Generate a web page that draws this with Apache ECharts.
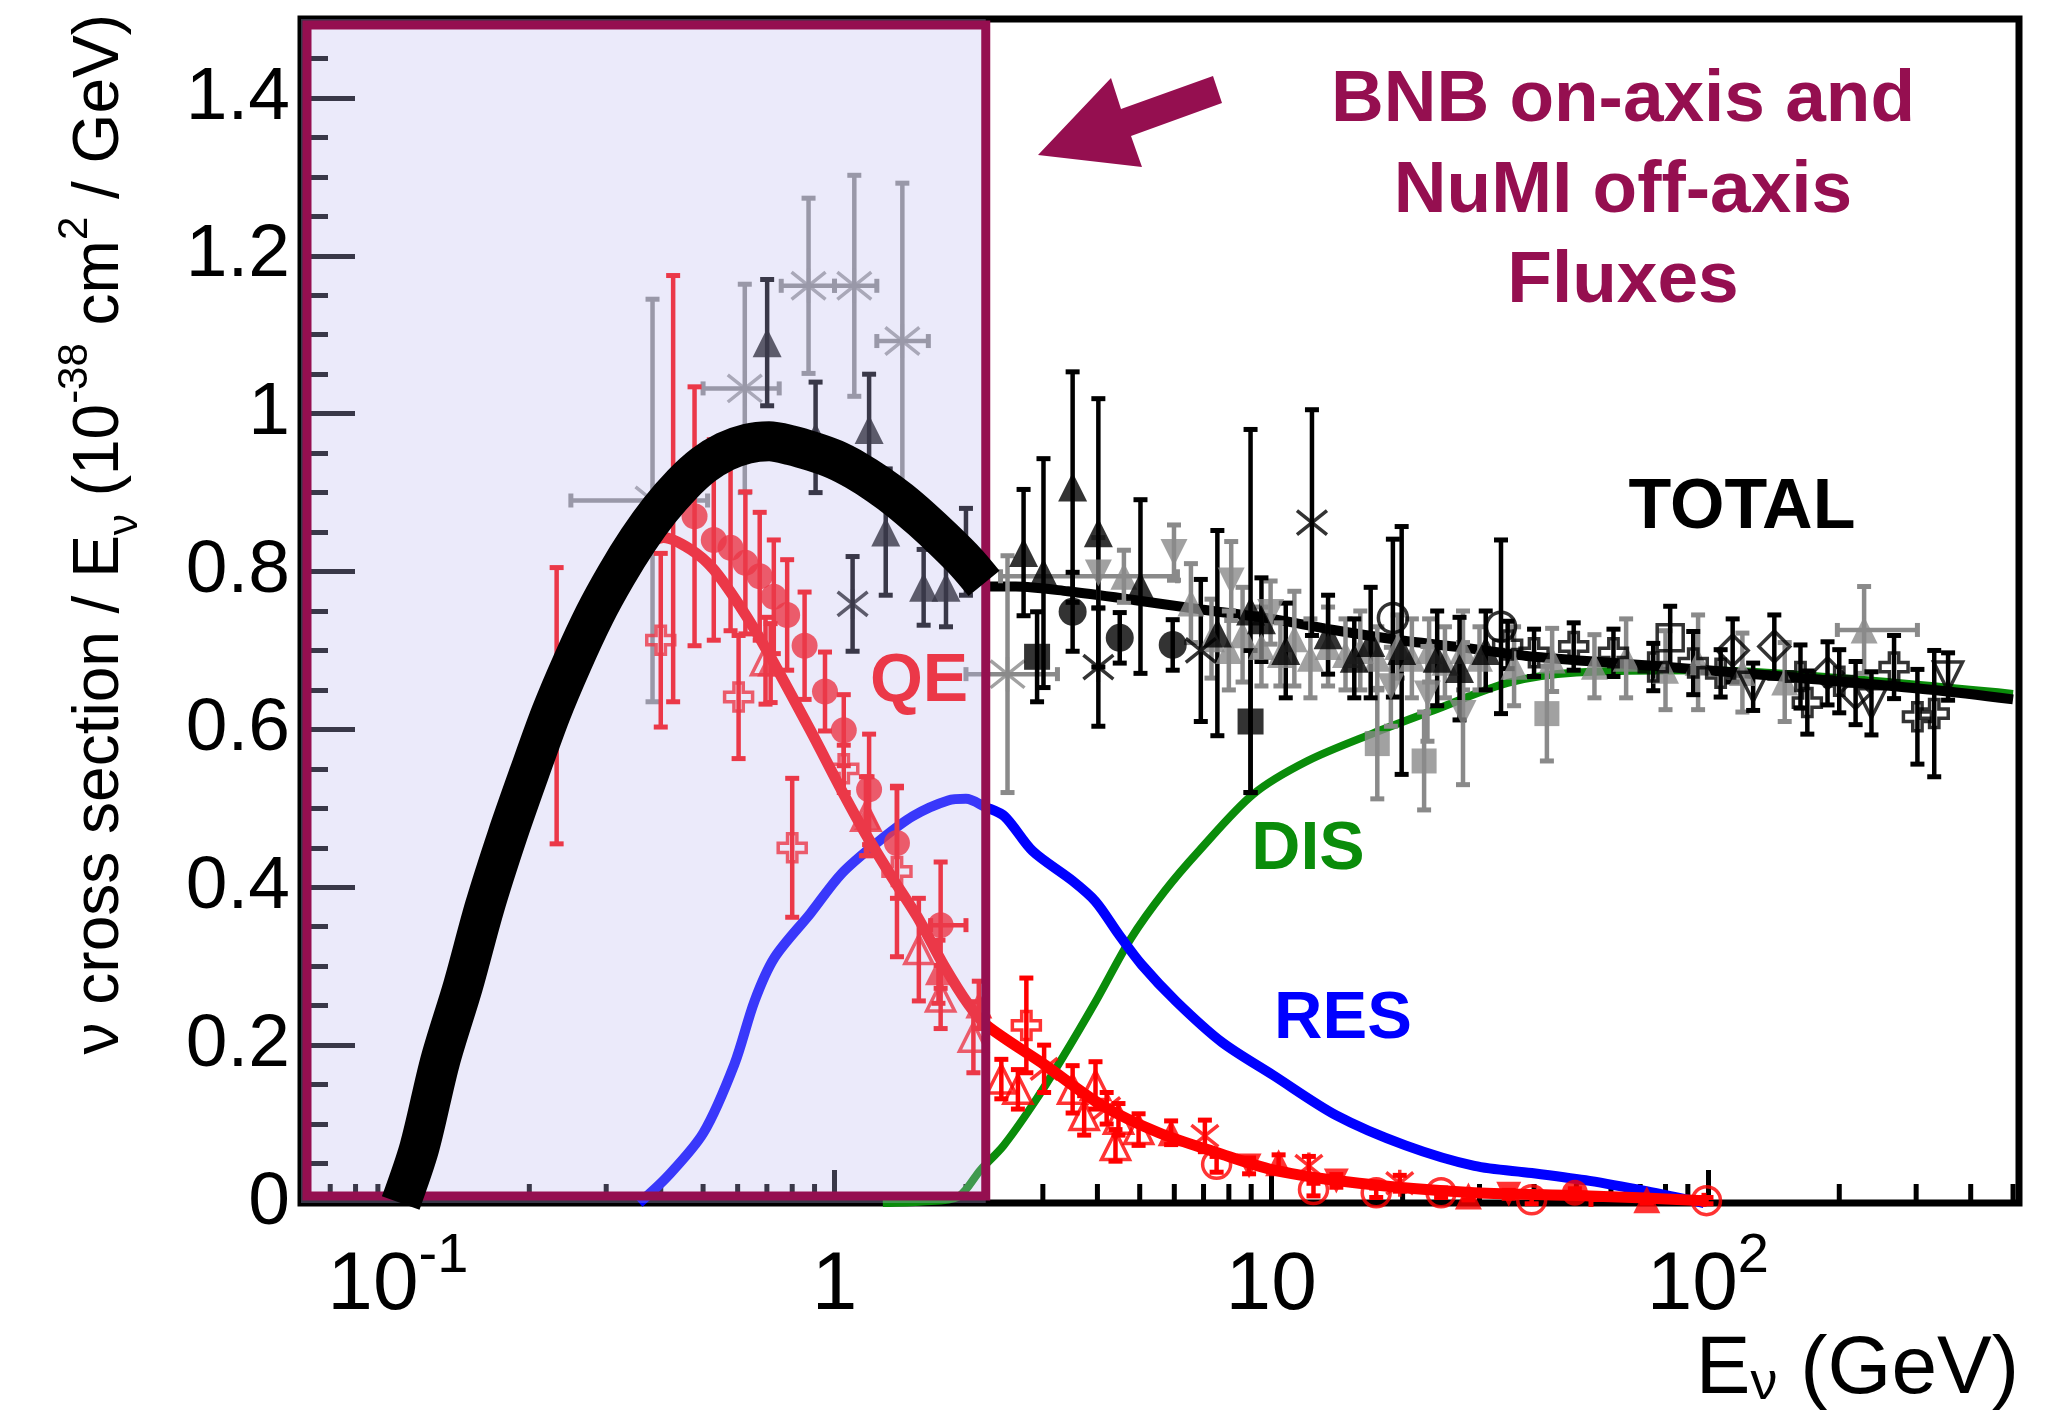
<!DOCTYPE html>
<html><head><meta charset="utf-8">
<script src="https://cdn.jsdelivr.net/npm/echarts@6/dist/echarts.min.js"></script>
<style>html,body{margin:0;padding:0;background:#fff;} #c{width:2045px;height:1415px;}</style>
</head><body><div id="c"></div>
<script>
// ---------------- axis / tick values ----------------
const xRange = [0.06, 516];
const yRange = [0, 1.5];
const xDecades = [0.1, 1, 10, 100];
const xDecadeLabels = ['{b|10}{s|-1}', '{b|1}', '{b|10}', '{b|10}{s|2}'];
const xMinorTicks = [0.07,0.08,0.09, 0.2,0.3,0.4,0.5,0.6,0.7,0.8,0.9, 2,3,4,5,6,7,8,9, 20,30,40,50,60,70,80,90, 200,300,400,500];
const fluxBox = [0.06, 2.22, 0, 1.5]; // E from, E to, y from, y to

// ---------------- model curves ----------------
const thickE = [0.1015,0.112,0.125,0.141,0.158,0.178,0.2,0.224,0.251,0.282,0.316,0.355,0.398,0.447,0.501,0.562,0.631,0.708,0.794,0.891,1.0,1.12,1.26,1.41,1.585,1.78,2.0,2.2];
const thickY = [0,0.07,0.18,0.275,0.375,0.465,0.545,0.62,0.685,0.745,0.795,0.84,0.878,0.91,0.935,0.952,0.962,0.965,0.96,0.952,0.942,0.928,0.91,0.89,0.866,0.84,0.812,0.785];
const totalE = [2.2,2.6,3.42,4.85,6.9,9.8,13.9,19.8,28.1,40,81,163,330,500];
const totalY = [0.781,0.781,0.775,0.764,0.752,0.741,0.726,0.713,0.703,0.692,0.679,0.665,0.65,0.638];
const qeE = [0.33,0.36,0.406,0.468,0.528,0.609,0.70,0.88,1.04,1.18,1.36,1.55,1.78,2.03,2.23,3.03,4.09,5.53,7.5,10.1,15.9,29.2,53.6,98];
const qeY = [0.815,0.83,0.843,0.828,0.803,0.755,0.70,0.599,0.522,0.467,0.411,0.362,0.301,0.251,0.225,0.175,0.124,0.089,0.064,0.042,0.025,0.013,0.009,0.003];
const resE = [0.357,0.415,0.501,0.59,0.656,0.729,0.881,1.037,1.254,1.51,1.82,2.0,2.21,2.45,2.84,3.51,3.96,4.48,5.05,6.07,7.7,10.1,14.1,20.3,29.2,39.5,53.6,72.3,98];
const resY = [0,0.034,0.089,0.176,0.256,0.311,0.367,0.417,0.457,0.49,0.51,0.512,0.502,0.49,0.446,0.408,0.382,0.34,0.302,0.255,0.204,0.162,0.111,0.073,0.047,0.038,0.028,0.015,0];
const disE = [1.29,1.59,1.92,2.16,2.44,2.84,3.31,3.96,4.77,5.7,6.83,9.1,12.1,17.1,23.5,34.8,50,100,200,500];
const disY = [0,0.002,0.008,0.042,0.073,0.124,0.182,0.255,0.335,0.395,0.446,0.518,0.56,0.595,0.624,0.659,0.672,0.675,0.665,0.645];

// ---------------- measurements: [E, y, yErr, (Elo, Ehi)] ----------------
const qeCircle = [[0.231,0.63,0.175],[0.427,0.905,0.27],[0.478,0.870,0.164],[0.529,0.840,0.127],[0.578,0.830,0.105],[0.625,0.811,0.09],[0.674,0.794,0.081],[0.726,0.768,0.072],[0.779,0.745,0.07],[0.854,0.706,0.068],[0.951,0.648,0.05],[1.05,0.599,0.045],[1.20,0.524,0.07],[1.39,0.456,0.07],[1.75,0.352,0.08,1.66,2.0],[49.6,0.013,0.005]];
const qeCross = [[0.40,0.713,0.11],[0.603,0.641,0.078],[0.80,0.45,0.088],[1.05,0.55,0.03],[1.39,0.42,0.108],[2.75,0.225,0.06]];
const qeTriOpen = [[0.695,0.687,0.055],[1.18,0.49,0.05],[1.56,0.321,0.065],[1.75,0.261,0.04],[2.08,0.21,0.045],[2.41,0.157,0.025],[2.63,0.144,0.025],[3.51,0.144,0.03],[3.73,0.111,0.025],[3.96,0.149,0.03],[4.4,0.073,0.02],[4.47,0.106,0.02],[4.97,0.093,0.02]];
const qeTriFilled = [[0.714,0.684,0.05],[1.19,0.49,0.05],[1.73,0.293,0.04],[2.14,0.251,0.03],[5.9,0.089,0.015],[10.4,0.051,0.01],[28.3,0.009,0.005],[72.5,0.004,0.004,54,98]];
const qeStar = [[3.02,0.17,0.03],[4.2,0.12,0.02],[7.05,0.085,0.02],[12.2,0.047,0.012],[19.7,0.025,0.01]];
const qeOpenCircle = [[7.5,0.049,0.01],[12.5,0.017,0.008],[17.4,0.013,0.006],[24.5,0.013,0.006],[39.5,0.004,0.005],[99.3,0.003,0.004]];
const qeDownTri = [[8.9,0.047,0.01],[14.1,0.028,0.008],[35,0.011,0.005]];

const totTri = [[0.701,1.09,0.08],[0.905,0.97,0.07],[1.2,0.98,0.07],[1.31,0.85,0.08],[1.60,0.78,0.048],[1.80,0.78,0.05],[2.0,0.825,0.055],[2.71,0.824,0.08],[3.01,0.798,0.145],[3.51,0.907,0.146],[4.02,0.849,0.17],[5.02,0.781,0.11],[7.53,0.722,0.13],[8.97,0.75,0.23],[9.5,0.739,0.053],[10.8,0.70,0.06],[13.5,0.72,0.05],[15.5,0.69,0.05],[16.9,0.71,0.07],[19.9,0.70,0.157],[24,0.69,0.06],[27,0.677,0.065],[31,0.70,0.05]];
const totStar = [[1.10,0.759,0.06],[4.02,0.679,0.075],[6.9,0.70,0.09],[12.4,0.862,0.143]];
const totCircle = [[3.51,0.749,0.05],[4.5,0.716,0.032],[5.95,0.707,0.032]];
const totSquare = [[2.91,0.692,0.057],[8.97,0.61,0.09]];
const totOpenCircle = [[19.0,0.741,0.1],[33.6,0.73,0.11]];
const totOpenCross = [[34.8,0.707,0.03],[40,0.697,0.03],[49.3,0.705,0.03],[60.8,0.697,0.03],[75,0.679,0.03],[92.6,0.684,0.04],[107,0.671,0.03],[163,0.667,0.04],[169,0.634,0.04],[200,0.661,0.04],[267,0.679,0.04],[302,0.616,0.06],[330,0.62,0.08]];
const totOpenDiamond = [[114,0.70,0.04],[142,0.705,0.04],[188,0.671,0.04],[218,0.646,0.04]];
const totOpenTriDown = [[127,0.654,0.03],[237,0.633,0.04],[355,0.667,0.03]];
const totOpenSquare = [[82,0.716,0.04]];

const grayStar = [[0.383,0.89,0.255,0.249,0.512],[0.623,1.032,0.132,0.50,0.747],[0.872,1.162,0.111,0.755,1.0],[1.11,1.162,0.14,1.0,1.25],[1.43,1.092,0.2,1.25,1.64],[2.49,0.67,0.15,2.0,3.24]];
const grayTriUp = [[4.6,0.794,0.033,2.4,6.1],[6.55,0.76,0.05],[7.3,0.715,0.05],[8.0,0.70,0.05],[8.6,0.72,0.06],[9.5,0.705,0.05],[10.5,0.695,0.04],[11.3,0.715,0.06],[12.3,0.69,0.05],[13.5,0.705,0.05],[14.8,0.695,0.045],[16.0,0.70,0.05],[17.5,0.69,0.04],[19.5,0.705,0.04],[21,0.69,0.05],[23,0.70,0.04],[25,0.685,0.045],[27.5,0.70,0.05],[30,0.69,0.04],[36,0.68,0.05],[44,0.688,0.04],[55,0.68,0.04],[65,0.69,0.05],[80,0.675,0.05],[95,0.685,0.06],[120,0.672,0.05],[150,0.66,0.05],[228,0.726,0.055,198,302]];
const grayTriDown = [[4.02,0.798,0.045],[5.99,0.824,0.035],[8.1,0.788,0.05],[9.97,0.748,0.04],[18.8,0.654,0.05],[22.8,0.645,0.06],[27.5,0.62,0.09]];
const graySquare = [[17.5,0.582,0.07],[22.4,0.56,0.062],[42.8,0.62,0.06]];

// ---------------- styling ----------------
const RED = '#ff0000', BLACK = '#000000', GRAY = '#8a8a8a', BLUE = '#0000ff', GREEN = '#0a8c0a', MAROON = '#950f50';
const FONT = "'Liberation Sans', Arial, Helvetica, sans-serif";
const SYM_CROSS = 'path://M-1,-3L1,-3L1,-1L3,-1L3,1L1,1L1,3L-1,3L-1,1L-3,1L-3,-1L-1,-1Z';
const SYM_STAR = 'path://M0,-10L0,10M-8,-8L8,8M-8,8L8,-8';

function zip(a, b) { return a.map((v, i) => [v, b[i]]); }

function errRender(color) {
  return function (params, api) {
    const x = api.value(0), y = api.value(1), e = api.value(2), xl = api.value(3), xh = api.value(4);
    const c = api.coord([x, y]);
    const t = api.coord([x, y + e]);
    const b = api.coord([x, Math.max(y - e, -0.004)]);
    const st = { stroke: color, lineWidth: 4.5 };
    const cs = { stroke: color, lineWidth: 5 };
    const cap = 7;
    const ch = [
      { type: 'line', shape: { x1: c[0], y1: t[1], x2: c[0], y2: b[1] }, style: st },
      { type: 'line', shape: { x1: c[0] - cap, y1: t[1], x2: c[0] + cap, y2: t[1] }, style: cs },
      { type: 'line', shape: { x1: c[0] - cap, y1: b[1], x2: c[0] + cap, y2: b[1] }, style: cs }
    ];
    if (xl > 0 && xh > 0) {
      const l = api.coord([xl, y]), r = api.coord([xh, y]);
      ch.push({ type: 'line', shape: { x1: l[0], y1: c[1], x2: r[0], y2: c[1] }, style: st });
      ch.push({ type: 'line', shape: { x1: l[0], y1: c[1] - cap, x2: l[0], y2: c[1] + cap }, style: cs });
      ch.push({ type: 'line', shape: { x1: r[0], y1: c[1] - cap, x2: r[0], y2: c[1] + cap }, style: cs });
    }
    return { type: 'group', children: ch };
  };
}

const series = [];
function curve(E, Y, color, width, z, extra) {
  series.push(Object.assign({
    type: 'line', data: zip(E, Y), showSymbol: false, smooth: 0.3, z: z,
    lineStyle: { color: color, width: width }, silent: true, animation: false
  }, extra || {}));
}
function group(pts, color, symbol, size, open, rotate) {
  const norm = pts.map(p => [p[0], p[1], p[2], p[3] || 0, p[4] || 0]);
  series.push({ type: 'custom', data: norm, renderItem: errRender(color), z: 3, silent: true, animation: false });
  series.push({
    type: 'scatter', data: pts.map(p => [p[0], p[1]]), symbol: symbol, symbolSize: size, symbolRotate: rotate || 0,
    itemStyle: open ? { color: 'rgba(0,0,0,0)', borderColor: color, borderWidth: 3.5 } : { color: color },
    z: 4, silent: true, animation: false
  });
}

// model curves (under data)
curve(disE, disY, GREEN, 8, 2);
curve(resE, resY, BLUE, 10, 2);
curve(qeE, qeY, RED, 11, 2);
curve(totalE, totalY, BLACK, 10, 2);

// data
group(grayTriUp, GRAY, 'triangle', 27, false);
group(grayTriDown, GRAY, 'triangle', 27, false, 180);
group(graySquare, GRAY, 'rect', 25, false);
group(grayStar, GRAY, SYM_STAR, 34, true);
group(totTri, BLACK, 'triangle', 29, false);
group(totStar, BLACK, SYM_STAR, 30, true);
group(totCircle, BLACK, 'circle', 28, false);
group(totSquare, BLACK, 'rect', 26, false);
group(totOpenCircle, BLACK, 'circle', 29, true);
group(totOpenCross, BLACK, SYM_CROSS, 28, true);
group(totOpenDiamond, BLACK, 'diamond', 31, true);
group(totOpenTriDown, BLACK, 'triangle', 29, true, 180);
group(totOpenSquare, BLACK, 'rect', 26, true);
group(qeTriOpen, RED, 'triangle', 28, true);
group(qeTriFilled, RED, 'triangle', 27, false);
group(qeCross, RED, SYM_CROSS, 28, true);
group(qeStar, RED, SYM_STAR, 27, true);
group(qeOpenCircle, RED, 'circle', 28, true);
group(qeDownTri, RED, 'triangle', 25, false, 180);
group(qeCircle, RED, 'circle', 26, false);

// minor ticks on the log axis (2..9 per decade)
series.push({
  type: 'custom', data: xMinorTicks.map(v => [v, 0]), z: 1, silent: true, animation: false,
  renderItem: function (params, api) {
    const p = api.coord([api.value(0), 0]);
    return { type: 'line', shape: { x1: p[0], y1: p[1], x2: p[0], y2: p[1] - 19 }, style: { stroke: '#000', lineWidth: 5 } };
  }
});

// flux shading box (semi-transparent, above data)
series.push({
  type: 'custom', data: [fluxBox], z: 10, silent: true, animation: false,
  renderItem: function (params, api) {
    const p0 = api.coord([api.value(0), api.value(3)]);
    const p1 = api.coord([api.value(1), api.value(2)]);
    return { type: 'group', children: [
      { type: 'rect', shape: { x: p0[0], y: p0[1], width: p1[0] - p0[0], height: p1[1] - p0[1] }, style: { fill: 'rgba(190,185,240,0.3)' } },
      { type: 'rect', shape: { x: p0[0] + 6, y: p0[1] + 6, width: p1[0] - p0[0] - 6, height: p1[1] - p0[1] - 13 }, style: { fill: 'none', stroke: MAROON, lineWidth: 9 } }
    ] };
  }
});

// thick total curve inside the flux region (drawn on top)
curve(thickE, thickY, BLACK, 40, 11, { clip: false, smooth: 0.3 });

function textEl(text, x, y, size, color, z) {
  return {
    type: 'text', x: x, y: y, z: z, silent: true,
    style: { text: text, fontSize: size, fontWeight: 'bold', fontFamily: FONT, fill: color, align: 'center', verticalAlign: 'middle' }
  };
}

const option = {
  animation: false,
  backgroundColor: '#ffffff',
  grid: { left: 301, right: 26, top: 19, bottom: 212, show: true, borderColor: '#000', borderWidth: 7, backgroundColor: 'rgba(0,0,0,0)', containLabel: false, outerBoundsMode: 'none' },
  xAxis: [{
    type: 'log', logBase: 10, min: xRange[0], max: xRange[1], position: 'bottom',
    axisLine: { show: false, onZero: false },
    axisTick: { show: true, inside: true, length: 33, lineStyle: { color: '#000', width: 5 } },
    splitLine: { show: false },
    axisLabel: {
      show: true, margin: 26, showMinLabel: false, showMaxLabel: false,
      formatter: function (v) {
        const k = Math.round(Math.log10(v));
        if (Math.abs(Math.log10(v) - k) > 1e-6) return '';
        const i = xDecades.indexOf(Math.pow(10, k) >= 1 ? Math.pow(10, k) : 0.1);
        return i >= 0 ? xDecadeLabels[i] : '';
      },
      rich: {
        b: { fontSize: 82, fontFamily: FONT, color: '#000', lineHeight: 115 },
        s: { fontSize: 56, fontFamily: FONT, color: '#000', verticalAlign: 'top' }
      }
    }
  }],
  yAxis: [{
    type: 'value', min: yRange[0], max: yRange[1], interval: 0.2, position: 'left',
    axisLine: { show: false, onZero: false },
    axisTick: { show: true, inside: true, length: 54, lineStyle: { color: '#000', width: 5 } },
    splitLine: { show: false },
    axisLabel: { show: true, fontSize: 75, fontFamily: FONT, color: '#000', margin: 11, showMaxLabel: false, padding: [12, 0, 0, 0] }
  }, {
    type: 'value', min: yRange[0], max: yRange[1], interval: 0.05, position: 'left', offset: 0,
    axisLine: { show: false, onZero: false },
    axisTick: { show: true, inside: true, length: 27, lineStyle: { color: '#000', width: 5 } },
    splitLine: { show: false }, axisLabel: { show: false }
  }],
  series: series,
  graphic: { elements: [
    { type: 'polygon', z: 20, silent: true,
      shape: { points: [[1038,155],[1111,78],[1121,109],[1213,76],[1222,103],[1131,136],[1142,167]] },
      style: { fill: MAROON } },
    textEl('BNB on-axis and', 1623, 101, 73, MAROON, 20),
    textEl('NuMI off-axis', 1623, 192, 73, MAROON, 20),
    textEl('Fluxes', 1623, 282, 73, MAROON, 20),
    textEl('TOTAL', 1742, 509, 70, BLACK, 20),
    textEl('QE', 919, 682, 68, RED, 5),
    textEl('DIS', 1308, 850, 68, GREEN, 20),
    textEl('RES', 1343, 1020, 67, BLUE, 20),
    { type: 'text', x: 2019, y: 1370, z: 20, silent: true,
      style: { text: '{m|E}{sb|ν}{m| (GeV)}', align: 'right', verticalAlign: 'middle', fill: '#000',
        rich: { m: { fontSize: 82, fontFamily: FONT, fill: '#000' },
                sb: { fontSize: 54, fontFamily: FONT, fill: '#000', verticalAlign: 'top', padding: [28, 0, 0, 0] } } } },
    { type: 'text', x: 100, y: 14, z: 20, rotation: Math.PI / 2, silent: true,
      style: { text: '{m|ν cross section / E}{sb|ν}{m| (10}{sp|-38}{m| cm}{sp|2}{m| / GeV)}', align: 'right', verticalAlign: 'middle', fill: '#000',
        rich: { m: { fontSize: 64, fontFamily: FONT, fill: '#000', lineHeight: 90 },
                sp: { fontSize: 42, fontFamily: FONT, fill: '#000', verticalAlign: 'top' },
                sb: { fontSize: 42, fontFamily: FONT, fill: '#000', verticalAlign: 'top', padding: [50, 0, 0, 0] } } } }
  ] }
};

const chart = echarts.init(document.getElementById('c'), null, { renderer: 'canvas', width: 2045, height: 1415 });
chart.setOption(option);
</script>
</body></html>
